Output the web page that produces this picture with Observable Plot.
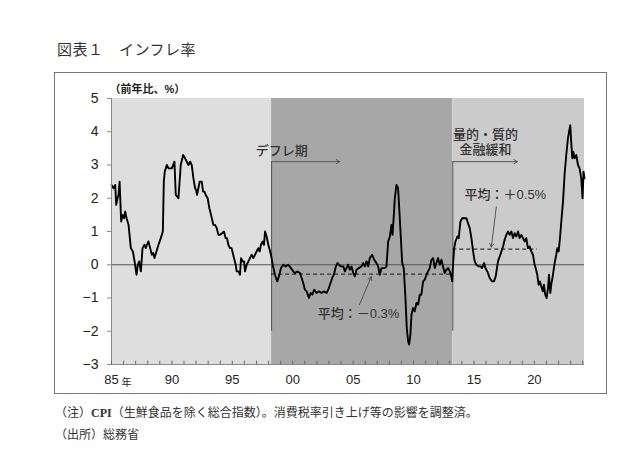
<!DOCTYPE html>
<html><head><meta charset="utf-8">
<script src="https://cdn.jsdelivr.net/npm/d3@7"></script>
<script src="https://cdn.jsdelivr.net/npm/@observablehq/plot@0.6"></script>
<style>
html,body{margin:0;padding:0;background:#fff;width:640px;height:469px;overflow:hidden;}
#wrap{position:relative;width:640px;height:469px;font-family:"Liberation Sans","Noto Sans CJK JP",sans-serif;}
#title{position:absolute;left:57px;top:38px;font-size:15px;color:#333;font-family:"Noto Sans CJK JP",sans-serif;letter-spacing:0.5px;}
#box{position:absolute;left:54px;top:72px;width:551px;height:320px;border:1px solid #777;}
#box svg{position:absolute;left:0;top:0;overflow:visible;}
.note{position:absolute;left:55px;font-size:12px;color:#333;font-family:"Liberation Serif","DejaVu Serif","Noto Sans CJK JP",serif;}
</style></head>
<body><div id="wrap">
<div id="title">図表１　インフレ率</div>
<div id="box"></div>
<div class="note" style="top:403px">（注）<b>CPI</b>（生鮮食品を除く総合指数）。消費税率引き上げ等の影響を調整済。</div>
<div class="note" style="top:425px">（出所）総務省</div>
</div>
<script>
// CPI (ex fresh food) YoY %: decimal year and value
const years = [
1985.00,1985.17,1985.31,1985.39,1985.50,1985.58,1985.67,1985.80,1985.94,1986.05,1986.13,1986.25,1986.33,1986.41,1986.52,1986.60,1986.77,1986.91,
1987.07,1987.18,1987.29,1987.43,1987.57,1987.73,1987.84,1987.93,1988.06,1988.20,1988.34,1988.45,1988.56,1988.72,1988.89,1989.08,1989.25,1989.33,
1989.41,1989.58,1989.72,1989.99,1990.10,1990.21,1990.32,1990.54,1990.73,1990.93,1991.09,1991.23,1991.37,1991.51,1991.64,1991.78,1991.92,1992.00,
1992.08,1992.19,1992.30,1992.47,1992.58,1992.69,1992.80,1992.96,1993.10,1993.24,1993.43,1993.57,1993.71,1993.85,1993.98,1994.15,1994.31,1994.45,
1994.56,1994.67,1994.81,1994.94,1995.14,1995.28,1995.36,1995.50,1995.64,1995.72,1995.86,1995.97,1996.05,1996.19,1996.33,1996.46,1996.60,1996.74,
1996.88,1997.01,1997.15,1997.26,1997.37,1997.51,1997.62,1997.71,1997.84,1997.98,1998.20,1998.34,1998.53,1998.72,1998.86,1999.03,1999.22,1999.41,
1999.63,1999.85,2000.05,2000.18,2000.41,2000.60,2000.74,2000.87,2001.01,2001.15,2001.34,2001.48,2001.62,2001.78,2001.98,2002.17,2002.39,2002.58,
2002.80,2002.94,2003.08,2003.27,2003.44,2003.57,2003.71,2003.82,2003.99,2004.18,2004.32,2004.45,2004.59,2004.73,2004.87,2005.01,2005.14,2005.28,
2005.47,2005.69,2005.83,2005.97,2006.11,2006.25,2006.38,2006.58,2006.74,2006.93,2007.07,2007.21,2007.35,2007.62,2007.76,2007.90,2008.04,2008.17,
2008.26,2008.37,2008.45,2008.59,2008.72,2008.83,2008.95,2009.06,2009.19,2009.33,2009.44,2009.55,2009.63,2009.74,2009.83,2009.96,2010.10,2010.24,
2010.38,2010.52,2010.65,2010.79,2010.93,2011.07,2011.20,2011.34,2011.48,2011.62,2011.76,2011.89,2012.03,2012.17,2012.31,2012.44,2012.58,2012.72,
2012.86,2013.00,2013.13,2013.20,2013.27,2013.36,2013.47,2013.63,2013.74,2013.88,2014.02,2014.24,2014.38,2014.51,2014.65,2014.79,2014.93,2015.06,
2015.20,2015.40,2015.56,2015.67,2015.84,2015.95,2016.11,2016.30,2016.50,2016.66,2016.80,2016.99,2017.13,2017.27,2017.41,2017.54,2017.68,2017.82,
2017.96,2018.10,2018.23,2018.37,2018.51,2018.65,2018.78,2018.92,2019.06,2019.20,2019.33,2019.47,2019.61,2019.75,2019.89,2020.02,2020.11,2020.24,
2020.35,2020.46,2020.57,2020.71,2020.79,2020.90,2021.01,2021.13,2021.21,2021.32,2021.40,2021.54,2021.68,2021.81,2021.90,2022.01,2022.12,2022.23,
2022.37,2022.50,2022.64,2022.78,2022.92,2022.97,2023.05,2023.14,2023.22,2023.33,2023.47,2023.61,2023.74,2023.88,2023.99,2024.07,2024.15];
const cpi = [
2.4,2.3,2.4,1.8,2.0,2.1,2.5,1.3,1.5,1.4,1.6,1.4,1.3,1.2,0.8,0.5,0.4,0.1,
-0.3,0.0,0.1,-0.2,0.5,0.6,0.5,0.6,0.7,0.5,0.3,0.35,0.2,0.4,0.6,0.8,1.0,2.5,
2.8,3.0,2.9,2.9,3.0,3.1,2.1,2.0,3.0,3.3,3.2,3.1,3.0,3.1,3.0,2.6,2.3,2.25,
2.1,2.3,2.5,2.5,2.2,2.2,2.1,2.0,1.7,1.5,1.2,1.2,1.1,0.9,0.9,0.95,1.0,0.8,
0.8,0.6,0.5,0.5,0.2,0.0,-0.2,-0.2,-0.3,0.2,0.1,0.1,-0.2,0.0,0.1,0.2,0.3,0.2,
0.3,0.4,0.5,0.4,0.6,0.7,0.6,1.0,0.85,0.6,0.3,0.0,-0.3,-0.5,-0.35,-0.1,0.0,-0.05,
0.0,-0.1,-0.2,-0.25,-0.2,-0.25,-0.4,-0.55,-0.75,-0.8,-1.0,-0.85,-0.9,-0.75,-0.85,-0.8,-0.85,-0.8,
-0.85,-0.75,-0.6,-0.4,-0.25,-0.05,0.05,0.0,-0.05,-0.05,-0.2,-0.1,0.0,-0.15,-0.05,-0.25,-0.35,-0.15,
-0.1,-0.05,0.05,-0.05,0.1,-0.05,0.2,0.3,0.15,0.05,-0.05,-0.3,-0.1,-0.1,-0.05,0.7,0.85,1.2,
0.9,1.5,2.0,2.4,2.3,1.6,0.8,0.05,-0.1,-1.0,-1.9,-2.3,-2.4,-2.1,-1.5,-1.3,-1.4,-1.15,
-1.2,-0.9,-0.9,-0.5,-0.45,-0.3,-0.2,-0.1,0.15,0.2,-0.1,0.05,0.2,0.0,0.15,-0.05,-0.25,-0.15,
-0.1,-0.2,-0.35,-0.5,0.0,0.5,0.7,0.85,0.8,1.3,1.4,1.4,1.4,1.25,1.1,0.8,0.4,0.1,
0.0,-0.05,-0.05,-0.1,0.05,-0.1,-0.2,-0.4,-0.5,-0.5,-0.35,0.1,0.25,0.4,0.55,0.75,0.9,1.0,
0.9,1.0,0.8,0.95,0.85,1.0,0.8,0.9,0.8,0.7,0.8,0.5,0.55,0.4,0.3,0.0,-0.1,-0.3,
-0.6,-0.5,-0.65,-0.8,-0.6,-0.9,-1.0,-0.7,-0.3,-0.85,-0.6,-0.3,0.05,0.3,0.5,0.4,0.8,1.3,
1.9,2.7,3.3,3.8,4.1,4.2,3.7,3.2,3.4,3.2,3.3,3.0,2.9,2.6,2.0,2.8,2.6];

// shaded periods
const regionStart = [1985, 1998.25, 2013.25];
const regionEnd = [1998.25, 2013.25, 2024.15];
const regionFill = ["#dedede", "#a7a7a7", "#cbcbcb"];
// average lines
const avgStart = [1998.25, 2013.25];
const avgEnd = [2013.25, 2020.25];
const avgValue = [-0.28, 0.47];
const avgLabel = ["平均：－0.3%", "平均：＋0.5%"];
const avgLabelX = [2005.45, 2017.6];
const avgLabelY = [-1.47, 2.1];
// period markers
const markerYear = [1998.25, 2013.25];
const markerArrowEnd = [2003.9, 2018.6];
const periodLabel = ["デフレ期", "量的・質的", "金融緩和"];
const periodLabelX = [1999.1, 2015.95, 2015.95];
const periodLabelY = [3.43, 3.92, 3.47];
const periodLabelAnchor = ["start", "middle", "middle"];
// ticks
const yTicks = [-3, -2, -1, 0, 1, 2, 3, 4, 5];
const xLabelYears = [1985, 1990, 1995, 2000, 2005, 2010, 2015, 2020];
const xTickYears = d3.range(1985, 2025);

const series = years.map((t, i) => ({t, v: cpi[i]}));
const regions = regionStart.map((s, i) => ({s, e: regionEnd[i], f: regionFill[i]}));
const avgs = avgStart.map((s, i) => ({s, e: avgEnd[i], v: avgValue[i]}));
const avgLabels = avgLabel.map((text, i) => ({text, x: avgLabelX[i], y: avgLabelY[i]}));
const calloutArrows = [
  {x1: 2005.53, y1: -1.2, x2: 2006.5, y2: -0.36},
  {x1: 2016.85, y1: 1.74, x2: 2016.44, y2: 0.53}
];
const periodArrows = markerYear.map((m, i) => ({x1: m, x2: markerArrowEnd[i], y: 3.1}));
const periodLabels = periodLabel.map((text, i) => ({text, x: periodLabelX[i], y: periodLabelY[i], a: periodLabelAnchor[i]}));

const font = '"Liberation Sans","Noto Sans CJK JP",sans-serif';
const chart = Plot.plot({
  width: 551, height: 320,
  marginLeft: 56, marginRight: 22, marginTop: 25, marginBottom: 29,
  x: {domain: [1985, 2024.15], axis: null},
  y: {domain: [-3, 5], axis: null},
  style: {fontFamily: font, background: "transparent", color: "#222", overflow: "visible"},
  marks: [
    Plot.rect(regions, {x1: "s", x2: "e", y1: -3, y2: 5, fill: "f"}),
    Plot.ruleY([0], {stroke: "#555", strokeWidth: 1}),
    Plot.ruleX(markerYear, {x: d => d, y1: -2, y2: 3.1, stroke: "#555", strokeWidth: 1}),
    Plot.arrow(periodArrows, {x1: "x1", x2: "x2", y1: "y", y2: "y", stroke: "#555", strokeWidth: 1, headLength: 6}),
    Plot.ruleY(avgs, {x1: "s", x2: "e", y: "v", stroke: "#333", strokeWidth: 1.2, strokeDasharray: "4,3"}),
    Plot.arrow(calloutArrows, {x1: "x1", y1: "y1", x2: "x2", y2: "y2", stroke: "#555", strokeWidth: 1, headLength: 6}),
    Plot.line(series, {x: "t", y: "v", stroke: "#000", strokeWidth: 1.9, strokeLinejoin: "round"}),
    Plot.text(avgLabels, {x: "x", y: "y", text: "text", fontSize: 13, fontWeight: 500, fill: "#333"}),
    Plot.text(periodLabels, {x: "x", y: "y", text: "text", textAnchor: "a", fontSize: 13, fontWeight: 500, fill: "#333"}),
    Plot.ruleX([1985], {y1: -3, y2: 5, stroke: "#888"}),
    Plot.ruleY([-3], {x1: 1985, x2: 2024.15, stroke: "#888"}),
    Plot.ruleX(xTickYears, {x: d => d, y1: -3, y2: -2.9, stroke: "#666"}),
    Plot.axisY({ticks: yTicks, tickSize: 4, tickPadding: 9, fontSize: 14, stroke: "#888", tickFormat: d => d < 0 ? "−" + Math.abs(d) : String(d)}),
    Plot.axisX({ticks: xLabelYears, tickSize: 0, tickPadding: 10, fontSize: 13, tickFormat: d => String(d % 100).padStart(2, "0")}),
    Plot.text([1985], {x: d => d, y: -3, text: () => "年", dx: 10, dy: 18, textAnchor: "start", fontSize: 10, fill: "#222"}),
    Plot.text([5], {x: 1985, y: d => d, text: () => "（前年比、%）", dx: -2, dy: -9, textAnchor: "start", fontSize: 11, fontWeight: 700, fill: "#222"})
  ]
});
document.getElementById("box").appendChild(chart);
</script>
</body></html>
